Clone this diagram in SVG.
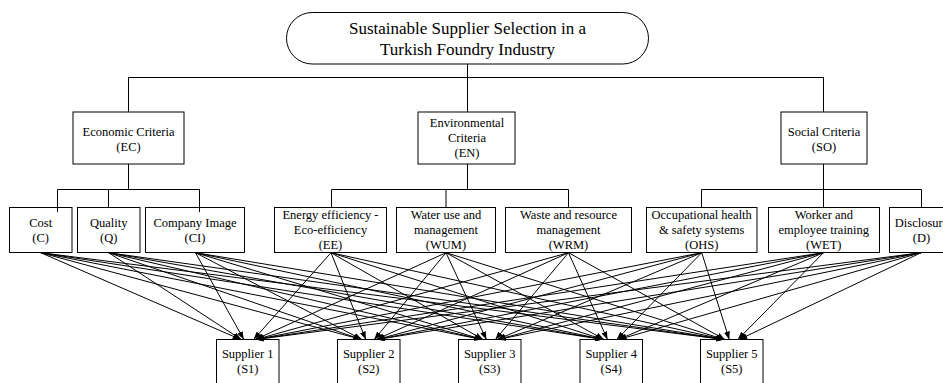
<svg xmlns="http://www.w3.org/2000/svg" width="943" height="383" viewBox="0 0 943 383">
<style>
.n{fill:#fff;stroke:#000;stroke-width:1}
.t{font-family:"Liberation Serif","Times New Roman",serif;font-size:12.5px;text-anchor:middle;fill:#000}
.tt{font-family:"Liberation Serif","Times New Roman",serif;font-size:17px;text-anchor:middle;fill:#000}
.l{stroke:#000;stroke-width:1;fill:none}
.a{stroke:#000;stroke-width:1;fill:none;marker-end:url(#ah)}
</style>
<defs>
<marker id="ah" markerWidth="8" markerHeight="6" refX="8" refY="3" orient="auto" markerUnits="userSpaceOnUse">
<path d="M0,0 L8,3 L0,6 z" fill="#000"/>
</marker>
</defs>
<rect width="943" height="383" fill="#fff"/>
<g id="goal">
<rect class="n" x="286.5" y="12.5" width="362" height="51.5" rx="25.75"/>
<text class="tt" x="467.5" y="33.5">Sustainable Supplier Selection in a</text>
<text class="tt" x="467.5" y="55">Turkish Foundry Industry</text>
</g>
<g id="EC">
<rect class="n" x="73" y="112" width="111" height="52"/>
<text class="t" x="128.5" y="135.5">Economic Criteria</text>
<text class="t" x="128.5" y="150.5">(EC)</text>
</g>
<g id="EN">
<rect class="n" x="418" y="112" width="97" height="52"/>
<text class="t" x="467" y="127.3">Environmental</text>
<text class="t" x="467" y="142.3">Criteria</text>
<text class="t" x="467" y="157">(EN)</text>
</g>
<g id="SO">
<rect class="n" x="781" y="112" width="86" height="52"/>
<text class="t" x="824" y="135.5">Social Criteria</text>
<text class="t" x="824" y="150.5">(SO)</text>
</g>
<g id="C">
<rect class="n" x="9.5" y="207.5" width="62.5" height="45"/>
<text class="t" x="40.7" y="226.5">Cost</text>
<text class="t" x="40.7" y="241.5">(C)</text>
</g>
<g id="Q">
<rect class="n" x="77.5" y="207.5" width="62.5" height="45"/>
<text class="t" x="108.7" y="226.5">Quality</text>
<text class="t" x="108.7" y="241.5">(Q)</text>
</g>
<g id="CI">
<rect class="n" x="145.5" y="207.5" width="99" height="45"/>
<text class="t" x="195" y="226.5">Company Image</text>
<text class="t" x="195" y="241.5">(CI)</text>
</g>
<g id="EE">
<rect class="n" x="274.5" y="207.5" width="112" height="45"/>
<text class="t" x="330.5" y="218.8">Energy efficiency -</text>
<text class="t" x="330.5" y="233.8">Eco-efficiency</text>
<text class="t" x="330.5" y="248.5">(EE)</text>
</g>
<g id="WUM">
<rect class="n" x="396.5" y="207.5" width="99" height="45"/>
<text class="t" x="446" y="218.8">Water use and</text>
<text class="t" x="446" y="233.8">management</text>
<text class="t" x="446" y="248.5">(WUM)</text>
</g>
<g id="WRM">
<rect class="n" x="505.5" y="207.5" width="126" height="45"/>
<text class="t" x="568.5" y="218.8">Waste and resource</text>
<text class="t" x="568.5" y="233.8">management</text>
<text class="t" x="568.5" y="248.5">(WRM)</text>
</g>
<g id="OHS">
<rect class="n" x="646.5" y="207.5" width="110.5" height="45"/>
<text class="t" x="701.7" y="218.8">Occupational health</text>
<text class="t" x="701.7" y="233.8">&amp; safety systems</text>
<text class="t" x="701.7" y="248.5">(OHS)</text>
</g>
<g id="WET">
<rect class="n" x="768.5" y="207.5" width="111" height="45"/>
<text class="t" x="823.8" y="218.8">Worker and</text>
<text class="t" x="823.8" y="233.8">employee training</text>
<text class="t" x="823.8" y="248.5">(WET)</text>
</g>
<g id="D">
<rect class="n" x="889.5" y="207.5" width="64" height="45"/>
<text class="t" x="921.5" y="226.5">Disclosure</text>
<text class="t" x="921.5" y="241.5">(D)</text>
</g>
<g id="S1">
<rect class="n" x="216.5" y="339.5" width="62.5" height="50"/>
<text class="t" x="247.75" y="357.7">Supplier 1</text>
<text class="t" x="247.75" y="372.5">(S1)</text>
</g>
<g id="S2">
<rect class="n" x="337.5" y="339.5" width="62.5" height="50"/>
<text class="t" x="368.75" y="357.7">Supplier 2</text>
<text class="t" x="368.75" y="372.5">(S2)</text>
</g>
<g id="S3">
<rect class="n" x="458.5" y="339.5" width="62.5" height="50"/>
<text class="t" x="489.75" y="357.7">Supplier 3</text>
<text class="t" x="489.75" y="372.5">(S3)</text>
</g>
<g id="S4">
<rect class="n" x="580" y="339.5" width="62.5" height="50"/>
<text class="t" x="611.25" y="357.7">Supplier 4</text>
<text class="t" x="611.25" y="372.5">(S4)</text>
</g>
<g id="S5">
<rect class="n" x="700.5" y="339.5" width="62.5" height="50"/>
<text class="t" x="731.75" y="357.7">Supplier 5</text>
<text class="t" x="731.75" y="372.5">(S5)</text>
</g>
<g id="connectors">
<path class="l" d="M467.5,64 V77.5 M128.5,77.5 H823.5 M128.5,77.5 V112 M467.5,77.5 V112 M823.5,77.5 V112"/>
<path class="l" d="M128.5,164 V189.5 M57.5,189.5 H199.5 M57.5,189.5 V212 M108.5,189.5 V207.5 M199.5,189.5 V212"/>
<path class="l" d="M467.5,164 V189.5 M331.5,189.5 H568.5 M331.5,189.5 V207.5 M446,189.5 V207.5 M568.5,189.5 V207.5"/>
<path class="l" d="M823.5,164 V189.5 M701.5,189.5 H921.5 M701.5,189.5 V207.5 M823.5,189.5 V207.5 M921.5,189.5 V207.5"/>
<g id="arrows">
<line class="a" x1="40.7" y1="252.7" x2="240.6" y2="339.5"/>
<line class="a" x1="108.7" y1="252.7" x2="241.2" y2="339.5"/>
<line class="a" x1="195.5" y1="252.7" x2="243.8" y2="339.5"/>
<line class="a" x1="331" y1="252.7" x2="253.6" y2="339.5"/>
<line class="a" x1="446" y1="252.7" x2="255.3" y2="339.5"/>
<line class="a" x1="568.5" y1="252.7" x2="255.7" y2="339.5"/>
<line class="a" x1="701.7" y1="252.7" x2="255.9" y2="339.5"/>
<line class="a" x1="823.5" y1="252.7" x2="255.9" y2="339.5"/>
<line class="a" x1="921" y1="252.7" x2="255.9" y2="339.5"/>
<line class="a" x1="40.7" y1="252.7" x2="361.3" y2="339.5"/>
<line class="a" x1="108.7" y1="252.7" x2="361.4" y2="339.5"/>
<line class="a" x1="195.5" y1="252.7" x2="361.8" y2="339.5"/>
<line class="a" x1="331" y1="252.7" x2="365.8" y2="339.5"/>
<line class="a" x1="446" y1="252.7" x2="374.3" y2="339.5"/>
<line class="a" x1="568.5" y1="252.7" x2="376.3" y2="339.5"/>
<line class="a" x1="701.7" y1="252.7" x2="376.7" y2="339.5"/>
<line class="a" x1="823.5" y1="252.7" x2="376.9" y2="339.5"/>
<line class="a" x1="921" y1="252.7" x2="376.9" y2="339.5"/>
<line class="a" x1="40.7" y1="252.7" x2="482.1" y2="339.5"/>
<line class="a" x1="108.7" y1="252.7" x2="482.2" y2="339.5"/>
<line class="a" x1="195.5" y1="252.7" x2="482.3" y2="339.5"/>
<line class="a" x1="331" y1="252.7" x2="483" y2="339.5"/>
<line class="a" x1="446" y1="252.7" x2="486.4" y2="339.5"/>
<line class="a" x1="568.5" y1="252.7" x2="495.4" y2="339.5"/>
<line class="a" x1="701.7" y1="252.7" x2="497.4" y2="339.5"/>
<line class="a" x1="823.5" y1="252.7" x2="497.7" y2="339.5"/>
<line class="a" x1="921" y1="252.7" x2="497.8" y2="339.5"/>
<line class="a" x1="40.7" y1="252.7" x2="603.1" y2="339.5"/>
<line class="a" x1="108.7" y1="252.7" x2="603.1" y2="339.5"/>
<line class="a" x1="195.5" y1="252.7" x2="603.2" y2="339.5"/>
<line class="a" x1="331" y1="252.7" x2="603.4" y2="339.5"/>
<line class="a" x1="446" y1="252.7" x2="603.9" y2="339.5"/>
<line class="a" x1="568.5" y1="252.7" x2="607.5" y2="339.5"/>
<line class="a" x1="701.7" y1="252.7" x2="616.8" y2="339.5"/>
<line class="a" x1="823.5" y1="252.7" x2="618.4" y2="339.5"/>
<line class="a" x1="921" y1="252.7" x2="618.7" y2="339.5"/>
<line class="a" x1="40.7" y1="252.7" x2="724.1" y2="339.5"/>
<line class="a" x1="108.7" y1="252.7" x2="724.1" y2="339.5"/>
<line class="a" x1="195.5" y1="252.7" x2="724.1" y2="339.5"/>
<line class="a" x1="331" y1="252.7" x2="724.2" y2="339.5"/>
<line class="a" x1="446" y1="252.7" x2="724.3" y2="339.5"/>
<line class="a" x1="568.5" y1="252.7" x2="724.9" y2="339.5"/>
<line class="a" x1="701.7" y1="252.7" x2="729.3" y2="339.5"/>
<line class="a" x1="823.5" y1="252.7" x2="737.8" y2="339.5"/>
<line class="a" x1="921" y1="252.7" x2="739.3" y2="339.5"/>
</g>
</g>
</svg>
